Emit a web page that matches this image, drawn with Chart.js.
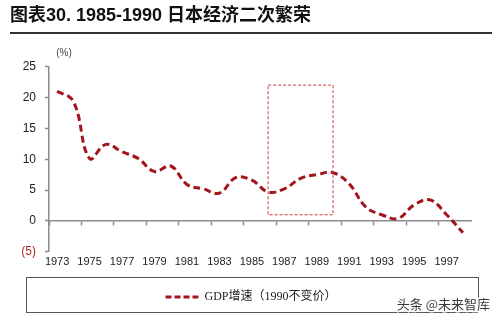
<!DOCTYPE html>
<html>
<head>
<meta charset="utf-8">
<script src="https://cdn.jsdelivr.net/npm/chart.js@4/dist/chart.umd.min.js"></script>
<style>
  body { margin: 0; background: #fff; }
  #wrap { width: 499px; height: 322px; position: relative; }
</style>
</head>
<body>
<div id="wrap"><canvas id="gdpChart"></canvas></div>
<script>
// data
const years = ['1973', '1974', '1975', '1976', '1977', '1978', '1979', '1980', '1981',
  '1982', '1983', '1984', '1985', '1986', '1987', '1988', '1989', '1990', '1991',
  '1992', '1993', '1994', '1995', '1996', '1997', '1998'];
const gdpGrowth = [21.0, 19.4, 10.1, 12.4, 11.2, 10.1, 8.0, 8.9, 5.9,
  5.2, 4.5, 7.0, 6.6, 4.7, 5.2, 6.9, 7.5, 7.8, 6.0,
  2.3, 1.0, 0.4, 2.6, 3.4, 1.0, -1.9];
const yTicks = [-5, 0, 5, 10, 15, 20, 25];
const boomYears = ['1986', '1990'];
const boomRange = [1, 22];

const RED = '#a3141c';
const AXIS = '#8c8c8c';
const SANS = "'Liberation Sans', Arial, sans-serif";
const PAD = { left: 10, right: 7, top: 0, bottom: 9 };

const decorations = {
  id: 'decorations',
  afterDraw(chart) {
    const ctx = chart.ctx;
    const x = chart.scales.x;
    const y = chart.scales.y;
    const area = chart.chartArea;
    const legend = chart.legend;
    const left = PAD.left;
    const right = chart.width - PAD.right;
    ctx.save();

    // rule under the title
    ctx.strokeStyle = '#333';
    ctx.lineWidth = 2;
    ctx.beginPath();
    ctx.moveTo(left, 33);
    ctx.lineTo(right, 33);
    ctx.stroke();

    // unit label
    ctx.fillStyle = '#444';
    ctx.font = '10px ' + SANS;
    ctx.textAlign = 'center';
    ctx.textBaseline = 'middle';
    ctx.fillText('(%)', area.left + 15, area.top - 13);

    // dashed box round the 1986-1990 boom
    const bx1 = x.getPixelForValue(years.indexOf(boomYears[0]));
    const bx2 = x.getPixelForValue(years.indexOf(boomYears[1]));
    const by1 = y.getPixelForValue(boomRange[1]);
    const by2 = y.getPixelForValue(boomRange[0]);
    ctx.strokeStyle = '#d2373c';
    ctx.lineWidth = 1;
    ctx.setLineDash([3, 2]);
    ctx.strokeRect(bx1, by1, bx2 - bx1, by2 - by1);
    ctx.setLineDash([]);

    // frame round the legend
    ctx.strokeStyle = '#555';
    ctx.lineWidth = 1;
    ctx.strokeRect(left + 16.5, legend.top + 0.5, right - left - 30, legend.height - 1);

    // watermark
    ctx.font = '13px "Noto Sans CJK SC", sans-serif';
    ctx.textAlign = 'right';
    ctx.lineWidth = 3;
    ctx.strokeStyle = '#fff';
    ctx.strokeText('头条 @未来智库', right - 2, legend.top + 27);
    ctx.fillStyle = '#3a3a3a';
    ctx.fillText('头条 @未来智库', right - 2, legend.top + 27);
    ctx.restore();
  }
};

new Chart(document.getElementById('gdpChart'), {
  type: 'line',
  data: {
    labels: years,
    datasets: [{
      label: 'GDP增速（1990不变价）',
      data: gdpGrowth,
      borderColor: RED,
      backgroundColor: RED,
      borderWidth: 3,
      borderDash: [7, 4],
      pointRadius: 0,
      tension: 0.4,
      fill: false,
      xAxisID: 'x',
      yAxisID: 'y'
    }]
  },
  options: {
    responsive: true,
    maintainAspectRatio: false,
    animation: false,
    layout: { padding: PAD },
    plugins: {
      title: {
        display: true,
        text: '图表30. 1985-1990 日本经济二次繁荣',
        align: 'start',
        color: '#111',
        font: { size: 18, weight: 'bold', family: "'Liberation Sans', 'Noto Sans CJK SC'" },
        padding: { top: 5, bottom: 40 }
      },
      legend: {
        position: 'bottom',
        labels: {
          usePointStyle: true,
          pointStyle: 'line',
          pointStyleWidth: 33,
          padding: 14,
          color: '#222',
          font: { size: 12, family: "'Liberation Serif', 'Noto Sans CJK SC', serif" },
          // point-style legend items lose the dataset dash, so put it back
          generateLabels: (chart) => Chart.defaults.plugins.legend.labels.generateLabels(chart)
            .map((item) => Object.assign(item, { lineDash: [6, 3], lineWidth: 3, strokeStyle: RED }))
        }
      },
      tooltip: { enabled: false }
    },
    scales: {
      x: {
        type: 'category',
        position: 'bottom',
        offset: true,
        border: { display: false },
        grid: { display: false, drawTicks: false },
        afterFit: (s) => { s.height += 4; },
        ticks: {
          autoSkip: false,
          maxRotation: 0,
          padding: 4,
          color: '#222',
          font: { size: 11, family: SANS },
          callback: (v, i) => (i % 2 === 0 ? years[i] : '')
        }
      },
      x2: {
        type: 'category',
        position: { y: 0 },
        offset: true,
        border: { display: true, color: AXIS, width: 1.5 },
        grid: {
          drawOnChartArea: false,
          tickLength: 4,
          tickWidth: 1.5,
          offset: true,
          tickColor: (c) => (c.index % 2 === 0 ? AXIS : 'rgba(0,0,0,0)')
        },
        ticks: { display: false }
      },
      y: {
        min: yTicks[0],
        max: yTicks[yTicks.length - 1],
        border: { display: true, color: AXIS, width: 1.5 },
        grid: { drawOnChartArea: false, tickLength: 4, tickColor: AXIS, tickWidth: 1.5 },
        afterBuildTicks: (s) => { s.ticks = yTicks.map(v => ({ value: v })); },
        afterFit: (s) => { s.width = 39; },
        ticks: {
          padding: 9,
          font: { size: 12, family: SANS },
          color: (c) => (c.tick && c.tick.value < 0 ? '#b0282d' : '#222'),
          callback: (v) => (v < 0 ? '(' + (-v) + ')' : v)
        }
      },
      // empty right-hand axis that only keeps space, as in the reference
      yRight: {
        position: 'right',
        min: yTicks[0],
        max: yTicks[yTicks.length - 1],
        border: { display: false },
        grid: { display: false },
        ticks: { display: false },
        afterFit: (s) => { s.width = 21; }
      }
    }
  },
  plugins: [decorations]
});
</script>
</body>
</html>
